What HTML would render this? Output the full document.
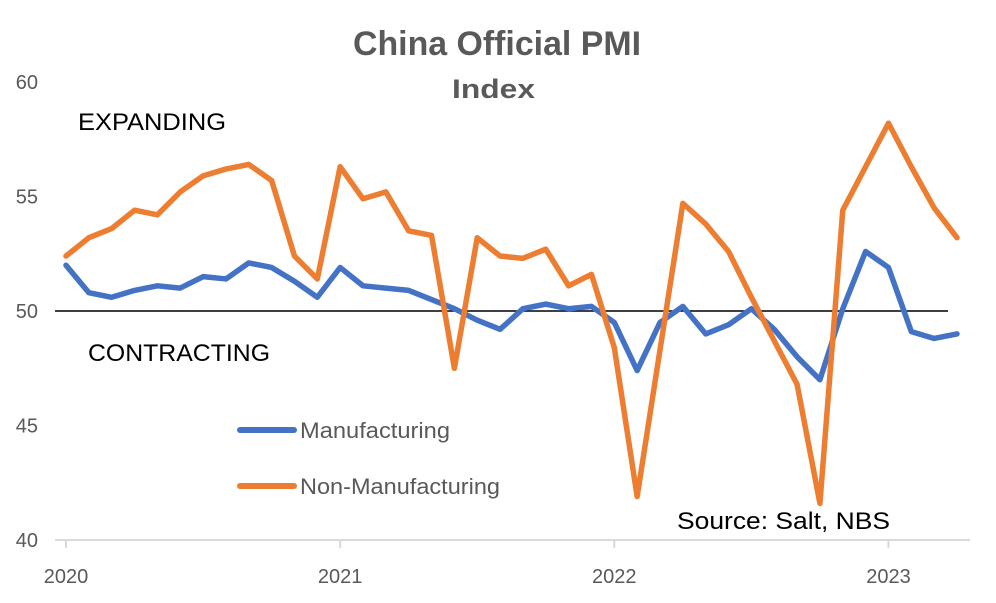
<!DOCTYPE html>
<html><head><meta charset="utf-8"><style>
body{margin:0;background:#fff;font-family:"Liberation Sans",sans-serif}
svg text{font-family:"Liberation Sans",sans-serif}
</style></head><body>
<svg id="chart" width="996" height="598" viewBox="0 0 996 598" xmlns="http://www.w3.org/2000/svg">
<text x="353" y="55" font-size="34" font-weight="bold" fill="#595959" textLength="288" lengthAdjust="spacingAndGlyphs">China Official PMI</text>
<text x="452" y="98" font-size="27" font-weight="bold" fill="#595959" textLength="83" lengthAdjust="spacingAndGlyphs">Index</text>
<g id="yaxis"></g>
<g id="xaxis"></g>
<g id="series"></g>
<text x="78" y="130" font-size="24" fill="#000" textLength="148" lengthAdjust="spacingAndGlyphs">EXPANDING</text>
<text x="88" y="361" font-size="24" fill="#000" textLength="182" lengthAdjust="spacingAndGlyphs">CONTRACTING</text>
<g>
<line x1="240" y1="430" x2="294" y2="430" stroke="#4472C4" stroke-width="6" stroke-linecap="round"/>
<text x="300" y="438" font-size="22" fill="#595959" textLength="150" lengthAdjust="spacingAndGlyphs">Manufacturing</text>
<line x1="240" y1="486" x2="294" y2="486" stroke="#ED7D31" stroke-width="6" stroke-linecap="round"/>
<text x="300" y="494" font-size="22" fill="#595959" textLength="200" lengthAdjust="spacingAndGlyphs">Non-Manufacturing</text>
</g>
<text x="677" y="529" font-size="24" fill="#000" textLength="213" lengthAdjust="spacingAndGlyphs">Source: Salt, NBS</text>
</svg>
<script>
const yTicks=[40,45,50,55,60];
const xTickLabels=["2020","2021","2022","2023"];
const xTickIdx=[0,12,24,36];
const manufacturing=[52.0,50.8,50.6,50.9,51.1,51.0,51.5,51.4,52.1,51.9,51.3,50.6,51.9,51.1,51.0,50.9,50.5,50.1,49.6,49.2,50.1,50.3,50.1,50.2,49.5,47.4,49.5,50.2,49.0,49.4,50.1,49.2,48.0,47.0,50.1,52.6,51.9,49.1,48.8,49.0];
const nonManufacturing=[52.4,53.2,53.6,54.4,54.2,55.2,55.9,56.2,56.4,55.7,52.4,51.4,56.3,54.9,55.2,53.5,53.3,47.5,53.2,52.4,52.3,52.7,51.1,51.6,48.4,41.9,48.3,54.7,53.8,52.6,50.6,48.7,46.8,41.6,54.4,56.3,58.2,56.3,54.5,53.2];
const NS="http://www.w3.org/2000/svg";
const x=i=>66+i*(957-66)/39;
const y=v=>540-(v-40)*22.9;
function mk(t,a,p){const e=document.createElementNS(NS,t);for(const k in a)e.setAttribute(k,a[k]);p.appendChild(e);return e;}
const ya=document.getElementById('yaxis'),xa=document.getElementById('xaxis'),sg=document.getElementById('series');
yTicks.forEach(v=>{const t=mk('text',{x:38,y:y(v)+7,'text-anchor':'end','font-size':20,fill:'#595959'},ya);


t.textContent=v;});
const ax=mk('line',{x1:55,y1:y(40),x2:970,y2:y(40),stroke:'#d9d9d9','stroke-width':2},xa);


xTickIdx.forEach((idx,k)=>{const tk=mk('line',{x1:x(idx),y1:y(40),x2:x(idx),y2:y(40)+8,stroke:'#d9d9d9','stroke-width':2},xa);


const t=mk('text',{x:x(idx),y:583,'text-anchor':'middle','font-size':20,fill:'#595959'},xa);


t.textContent=xTickLabels[k];});
const ref=mk('line',{x1:55,y1:y(50),x2:948,y2:y(50),stroke:'#000','stroke-width':1.5},sg);


function line(d,c,n){const p=mk('polyline',{points:d.map((v,i)=>x(i)+','+y(v)).join(' '),fill:'none',stroke:c,'stroke-width':5.5,'stroke-linejoin':'round','stroke-linecap':'round'},sg);

}
line(manufacturing,'#4472C4','manufacturing-line');
line(nonManufacturing,'#ED7D31','non-manufacturing-line');
</script>
</body></html>
